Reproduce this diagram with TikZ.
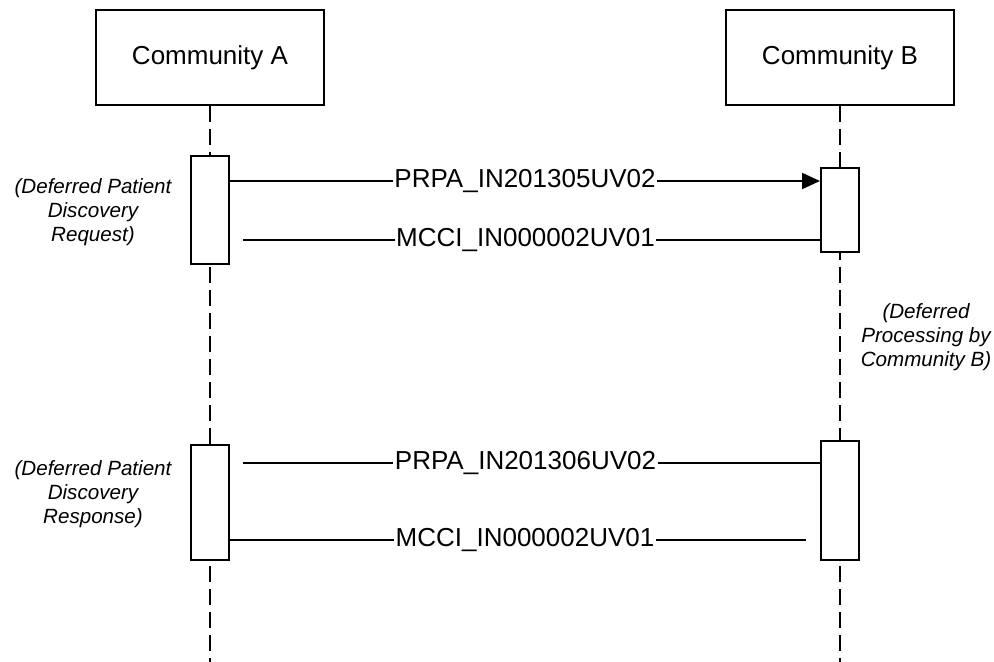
\documentclass[tikz,border=0pt]{standalone}
\usepackage{fontspec}
\setmainfont{Liberation Sans}
\usetikzlibrary{arrows.meta}
\tikzset{
  actor/.style={draw, line width=1pt, fill=white, minimum width=114pt, minimum height=47.5pt,
    font=\fontsize{13}{15.6}\selectfont},
  activation/.style={draw, line width=1pt, fill=white, minimum width=19pt, inner sep=0pt},
  lifeline/.style={line width=1pt, dash pattern=on 8pt off 3.5pt},
  msg/.style={line width=1pt},
  msglabel/.style={fill=white, inner xsep=0.8pt, inner ysep=1pt, font=\fontsize{13}{15.6}\selectfont},
  note/.style={align=center, font=\fontsize{10.3}{12}\selectfont\itshape}
}
\begin{document}
\begin{tikzpicture}[x=0.5pt, y=-0.5pt]
    \useasboundingbox (0,0) rectangle (994,662);
    \node[actor] (commA) at (210,57.5) {Community A};
    \node[actor] (commB) at (840,57.5) {Community B};
    \coordinate (bottom) at (0,662);
    \draw[lifeline] (commA.south) -- (commA.south |- bottom);
    \draw[lifeline] (commB.south) -- (commB.south |- bottom);
    \node[activation, minimum height=54pt] (actA1) at (210,210) {};
    \node[activation, minimum height=42pt] (actB1) at (840,210) {};
    \node[activation, minimum height=57.5pt] (actA2) at (210,502.5) {};
    \node[activation, minimum height=59.5pt] (actB2) at (840,500.5) {};
    % request exchange
    \coordinate (req) at (0,181);
    \coordinate (ack1) at (243,240);
    \draw[msg, -{Triangle[length=9pt, width=8pt]}] (actA1.east |- req) -- node[msglabel]{PRPA\_IN201305UV02} (actB1.west |- req);
    \draw[msg] (actB1.west |- ack1) -- node[msglabel, xshift=-3pt]{MCCI\_IN000002UV01} (ack1);
    % response exchange
    \coordinate (resp) at (243,463);
    \coordinate (ack2) at (806,540);
    \draw[msg] (resp) -- node[msglabel, xshift=-3pt]{PRPA\_IN201306UV02} (actB2.west |- resp);
    \draw[msg] (actA2.east |- ack2) -- node[msglabel, xshift=3.5pt]{MCCI\_IN000002UV01} (ack2);
    \node[note] (noteReq) at (93,212) {(Deferred Patient\\Discovery\\Request)};
    \node[note] (noteProc) at (926,337) {(Deferred\\Processing by\\Community B)};
    \node[note] (noteResp) at (93,494) {(Deferred Patient\\Discovery\\Response)};
\end{tikzpicture}
\end{document}
